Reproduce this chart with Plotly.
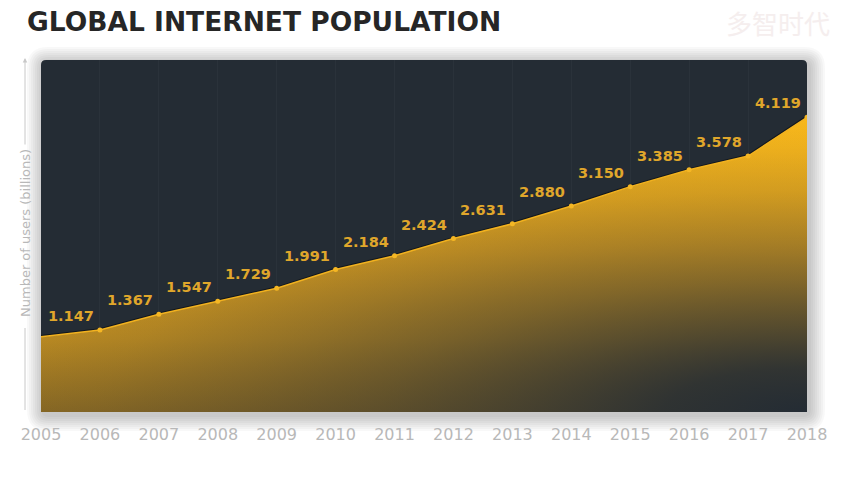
import plotly.graph_objects as go

# ---- data ----
years = [2005, 2006, 2007, 2008, 2009, 2010, 2011, 2012, 2013, 2014, 2015, 2016, 2017, 2018]
users = [1.05, 1.147, 1.367, 1.547, 1.729, 1.991, 2.184, 2.424, 2.631, 2.880, 3.150, 3.385, 3.578, 4.119]
label_years = years[1:]
label_values = users[1:]
label_texts = ["1.147", "1.367", "1.547", "1.729", "1.991", "2.184", "2.424",
               "2.631", "2.880", "3.150", "3.385", "3.578", "4.119"]
tick_labels = [str(y) for y in years]

title = "GLOBAL INTERNET POPULATION"
y_title = "Number of users (billions)"
watermark = "多智时代"

W, H = 846, 493
L, R, T, B = 41, 807, 60, 412
PW, PH = R - L, B - T
Y_MAX = 4.92

def px_x(px):
    return (px - L) / PW

def px_y(py):
    return (B - py) / PH

def rrect(x0p, y0p, x1p, y1p, r):
    x0, x1 = px_x(x0p), px_x(x1p)
    yt, yb = px_y(y0p), px_y(y1p)
    rx, ry = r / PW, r / PH
    return (f"M {x0+rx},{yb} L {x1-rx},{yb} Q {x1},{yb} {x1},{yb+ry} "
            f"L {x1},{yt-ry} Q {x1},{yt} {x1-rx},{yt} L {x0+rx},{yt} "
            f"Q {x0},{yt} {x0},{yt-ry} L {x0},{yb+ry} Q {x0},{yb} {x0+rx},{yb} Z")

fig = go.Figure()

# dark edge line under the fill (only its upper half shows)
fig.add_trace(go.Scatter(x=years, y=users, mode="lines",
                         line=dict(color="rgba(12,16,22,0.75)", width=3.5),
                         hoverinfo="skip", showlegend=False))

# main vertical gradient fill
ymax = max(users)
fig.add_trace(go.Scatter(
    x=years, y=users, mode="none", fill="tozeroy",
    fillgradient=dict(type="vertical", start=0, stop=ymax,
                      colorscale=[[0, "#8e6c23"], [0.25, "#c28f21"],
                                  [0.55, "#e3a41f"], [1, "#f8b81b"]]),
    hoverinfo="skip", showlegend=False))

# radial darkening centred at the bottom-right corner
span = 16
xr = years[-1]
poly_x = years + [xr + span, xr + span, xr - span, xr - span]
poly_y = users + [0, -ymax, -ymax, users[0]]
dark = "36,44,52"
fig.add_trace(go.Scatter(
    x=poly_x, y=poly_y, mode="none", fill="toself",
    fillgradient=dict(type="radial",
                      colorscale=[[0, f"rgba({dark},1)"], [0.15, f"rgba({dark},0.9)"],
                                  [0.3, f"rgba({dark},0.68)"], [0.45, f"rgba({dark},0.47)"],
                                  [0.6, f"rgba({dark},0.29)"], [0.75, f"rgba({dark},0.13)"],
                                  [0.9, f"rgba({dark},0.03)"], [1, f"rgba({dark},0)"]]),
    hoverinfo="skip", showlegend=False))

# gold line
fig.add_trace(go.Scatter(x=years, y=users, mode="lines",
                         line=dict(color="#f2b21f", width=1.5),
                         hoverinfo="skip", showlegend=False))

# point markers
fig.add_trace(go.Scatter(x=label_years, y=label_values, mode="markers",
                         marker=dict(color="#f5b724", size=5),
                         hoverinfo="skip", showlegend=False))

# data labels
for xv, yv, t in zip(label_years, label_values, label_texts):
    fig.add_annotation(x=xv, y=yv, text=t, showarrow=False,
                       xshift=-29, yshift=14, xanchor="center", yanchor="middle",
                       font=dict(family="DejaVu Sans", size=14.5, color="#e0a72b", weight="bold"))

shapes = []
# soft shadow
for i in range(1, 9):
    e = i * 2
    shapes.append(dict(type="path", xref="paper", yref="paper", layer="below",
                       path=rrect(L - e + 2, T - e + 3, R + e + 2, B + e + 3, 5 + e),
                       fillcolor="rgba(0,0,0,0.026)", line=dict(width=0)))
# panel
shapes.append(dict(type="path", xref="paper", yref="paper", layer="below",
                   path=rrect(L, T, R, B, 5), fillcolor="#242c34", line=dict(width=0)))
# y-axis guide lines
gx = px_x(25)
shapes.append(dict(type="line", xref="paper", yref="paper", x0=gx, x1=gx,
                   y0=px_y(328), y1=px_y(410), line=dict(color="#c8c8c8", width=1)))
fig.update_layout(shapes=shapes)

fig.add_annotation(xref="paper", yref="paper", x=gx, y=px_y(58), ax=0, ay=88,
                   axref="pixel", ayref="pixel", text="", showarrow=True,
                   arrowhead=2, arrowsize=0.9, arrowwidth=1, arrowcolor="#c8c8c8")
fig.add_annotation(xref="paper", yref="paper", x=gx, y=px_y(233), text=y_title,
                   textangle=-90, showarrow=False, xanchor="center", yanchor="middle",
                   font=dict(family="DejaVu Sans", size=13, color="#b8b8b8"))
fig.add_annotation(xref="paper", yref="paper", x=px_x(778), y=px_y(22), text=watermark,
                   showarrow=False, xanchor="center", yanchor="middle",
                   font=dict(family="Noto Sans CJK SC", size=26, color="#f5eeee"))

fig.update_layout(
    width=W, height=H,
    margin=dict(l=L, r=W - R, t=T, b=H - B, pad=0),
    paper_bgcolor="white", plot_bgcolor="rgba(0,0,0,0)",
    title=dict(text=title, xref="container", yref="container", x=27 / W, y=1 - 22 / H,
               xanchor="left", yanchor="middle",
               font=dict(family="DejaVu Sans", size=26.5, color="#262626", weight="bold")),
    xaxis=dict(range=[years[0], years[-1]], tickvals=years, ticktext=tick_labels,
               showgrid=True, gridcolor="rgba(255,255,255,0.03)", gridwidth=1,
               zeroline=False, showline=False, ticks="outside", ticklen=8,
               tickcolor="rgba(0,0,0,0)",
               tickfont=dict(family="DejaVu Sans", size=16, color="#b8b8b8")),
    yaxis=dict(range=[0, Y_MAX], showgrid=False, zeroline=False, showline=False,
               showticklabels=False, ticks=""),
    showlegend=False,
)

fig.write_html("out.html")
